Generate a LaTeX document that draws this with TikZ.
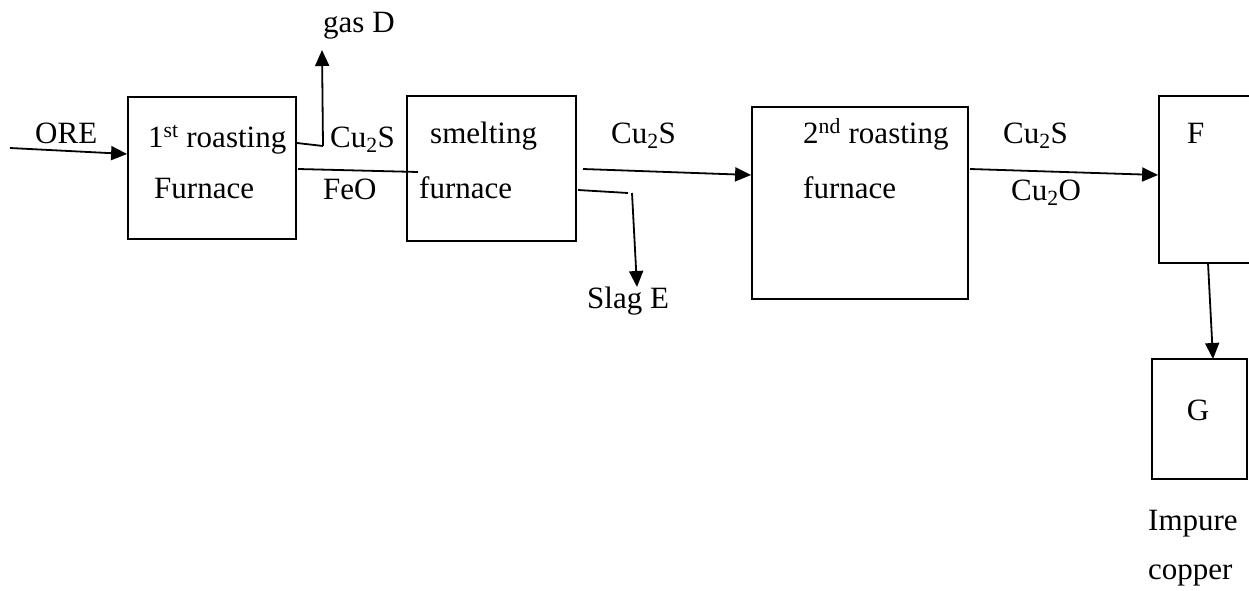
\documentclass[tikz,border=0pt]{standalone}
\usepackage{fontspec}
\setmainfont{Liberation Serif}
\usetikzlibrary{arrows.meta}
\begin{document}
\begin{tikzpicture}[x=1pt,y=-1pt,
  box/.style={draw,line width=1.8pt,inner sep=0pt},
  lbl/.style={inner sep=0pt,anchor=base west,font=\fontsize{31}{36}\selectfont},
  wire/.style={line width=1.8pt},
  arr/.style={line width=1.8pt,-{Triangle[length=16pt,width=14pt]}}]
\useasboundingbox (0,0) rectangle (1249,591);
\clip (0,0) rectangle (1249,591);
% boxes
\node[box,minimum width=168pt,minimum height=142pt] (b1) at (212,168) {};
\node[box,minimum width=169pt,minimum height=145pt] (b2) at (491.5,168.5) {};
\node[box,minimum width=216pt,minimum height=192pt] (b3) at (860,203) {};
\node[box,minimum width=120pt,minimum height=167pt] (bF) at (1219,179.5) {};
\node[box,minimum width=95pt,minimum height=120pt] (bG) at (1199.5,419) {};
% texts
\node[lbl] (tore) at (35,143) {ORE};
\node[lbl] (t1a) at (148,147) {1\textsuperscript{st} roasting};
\node[lbl] (t1b) at (154,198) {Furnace};
\node[lbl] (tgas) at (323,33) {gas D};
\node[lbl] (tc1) at (330,147) {Cu\textsubscript{2}S};
\node[lbl] (tfeo) at (323,199) {FeO};
\node[lbl] (t2a) at (430,143) {smelting};
\node[lbl] (t2b) at (419,198) {furnace};
\node[lbl] (tc2) at (611,143) {Cu\textsubscript{2}S};
\node[lbl] (tslag) at (587,308) {Slag E};
\node[lbl] (t3a) at (803,143) {2\textsuperscript{nd} roasting};
\node[lbl] (t3b) at (803,198) {furnace};
\node[lbl] (tc3) at (1003,143) {Cu\textsubscript{2}S};
\node[lbl] (tcu2o) at (1011,200) {Cu\textsubscript{2}O};
\node[lbl] (tF) at (1187,143) {F};
\node[lbl,anchor=base] (tG) at (1198,420) {G};
\node[lbl] (timp) at (1148,530) {Impure};
\node[lbl] (tcop) at (1148,579) {copper};
% connector coordinates
\coordinate (oreS) at (10,148);
\coordinate (oreE) at (b1.west |- 0,154);
\coordinate (gS) at (b1.east |- 0,143);
\coordinate (gK) at (323,146);
\coordinate (gE) at (322,50);
\coordinate (fS) at (298,169);
\coordinate (fE) at (418,172);
\coordinate (c2S) at (583,169);
\coordinate (c2E) at (b3.west |- 0,175);
\coordinate (sS) at (578,190);
\coordinate (sK) at (628,193);
\coordinate (sA) at (632,193);
\coordinate (sE) at (637,287);
\coordinate (c3S) at (970,169);
\coordinate (c3E) at (bF.west |- 0,175);
\coordinate (fgS) at (1208,263);
\coordinate (fgE) at (1213,359);
% connectors
\draw[arr] (oreS) -- (oreE);
\draw[wire] (gS) -- (gK);
\draw[arr] (gK) -- (gE);
\draw[wire] (fS) -- (fE);
\draw[arr] (c2S) -- (c2E);
\draw[wire] (sS) -- (sK);
\draw[arr] (sA) -- (sE);
\draw[arr] (c3S) -- (c3E);
\draw[arr] (fgS) -- (fgE);
\end{tikzpicture}
\end{document}
